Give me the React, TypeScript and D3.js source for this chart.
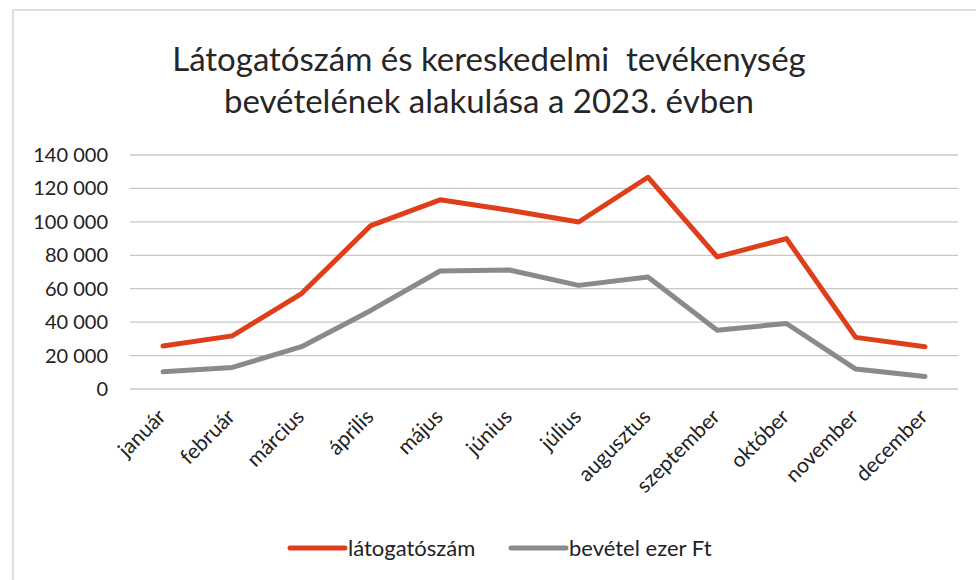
import React from "react";
import * as d3 from "d3";

const months = ["január", "február", "március", "április", "május", "június", "július", "augusztus", "szeptember", "október", "november", "december"];
const visitors = [25700, 31800, 57100, 97800, 113200, 107000, 99900, 126700, 79000, 90000, 30900, 25300];
const revenue = [10300, 12900, 25300, 47000, 70600, 71200, 62000, 67000, 35200, 39200, 11900, 7500];
const yTicks = [0, 20000, 40000, 60000, 80000, 100000, 120000, 140000];
const titleLines = ["Látogatószám és kereskedelmi  tevékenység", "bevételének alakulása a 2023. évben"];
const seriesNames = ["látogatószám", "bevétel ezer Ft"];
const seriesColors = ["#de3f1a", "#8a8a8a"];

const W = 976, H = 580;
const FONT = "Lato, 'Open Sans', sans-serif";

export default function App() {
  const x = d3.scalePoint<string>().domain(months).range([163, 925]);
  const y = d3.scaleLinear().domain([0, 140000]).range([389, 155]);
  const line = d3.line<number>().x((_, i) => x(months[i])!).y((d) => y(d));
  const fmt = (v: number) => d3.format(",")(v).replace(/,/g, " ");
  const series = [visitors, revenue];

  return (
    <svg width={W} height={H} style={{ position: "absolute", left: 0, top: 0, background: "#fff" }} fontFamily={FONT}>
      <rect x={0} y={0} width={W} height={H} fill="#fff" />
      <rect x={13} y={10} width={1000} height={700} fill="none" stroke="#d4d4d4" strokeWidth={1.5} />
      {titleLines.map((t, i) => (
        <text key={i} x={489} y={71 + i * 42} textAnchor="middle" fontSize={33} fill="#262626" style={{ whiteSpace: "pre" }}>{t}</text>
      ))}
      {yTicks.map((t) => (
        <g key={t}>
          <line x1={130} x2={958} y1={y(t)} y2={y(t)} stroke="#c8c8c8" strokeWidth={1.3} />
          <text x={108} y={y(t)} dy="0.35em" textAnchor="end" fontSize={20} fill="#222">{fmt(t)}</text>
        </g>
      ))}
      {months.map((m) => (
        <text key={m} transform={`translate(${x(m)! + 4},${418}) rotate(-45)`} textAnchor="end" fontSize={21} fill="#222">{m}</text>
      ))}
      {series.map((s, i) => (
        <path key={i} d={line(s)!} fill="none" stroke={seriesColors[i]} strokeWidth={5} strokeLinejoin="round" strokeLinecap="round" />
      ))}
      {seriesNames.map((n, i) => {
        const lx = i === 0 ? 290 : 511;
        return (
          <g key={n}>
            <line x1={lx} x2={lx + 55} y1={548} y2={548} stroke={seriesColors[i]} strokeWidth={5} strokeLinecap="round" />
            <text x={lx + 58} y={548} dy="0.35em" fontSize={22} fill="#222">{n}</text>
          </g>
        );
      })}
    </svg>
  );
}
